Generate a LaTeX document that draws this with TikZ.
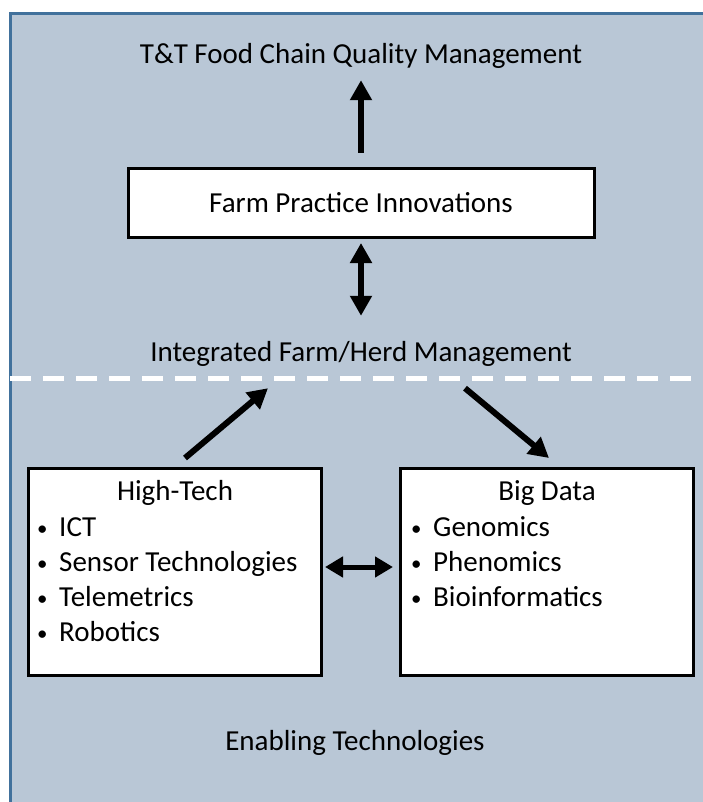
\documentclass[tikz,border=0pt]{standalone}
\usepackage{fontspec}
\setmainfont{Carlito}
\usepackage{xcolor}
\usetikzlibrary{arrows.meta,positioning}

\definecolor{panelfill}{RGB}{185,199,214}
\definecolor{panelline}{RGB}{65,113,156}

\newcommand{\bul}{\makebox[0pt][c]{\raisebox{1pt}{\scalebox{0.72}{\textbullet}}}\hspace{17pt}}

\begin{document}
\begin{tikzpicture}[x=1pt,y=-1pt,>={Triangle[length=20pt,width=21pt]},
                    lbl/.style={font=\fontsize{29}{35}\selectfont,inner sep=0pt,
                                text height=21pt,text depth=7pt},
                    box/.style={draw,line width=3pt,fill=white},
                    arr/.style={->,line width=6pt},
                    dblarr/.style={<->,line width=6pt},
                    sepline/.style={white,line width=5pt,dash pattern=on 21pt off 12pt}]
  \useasboundingbox (0,0) rectangle (703,802);
  \clip (0,0) rectangle (703,802);
  \fill[white] (0,0) rectangle (703,802);
  \fill[panelfill] (10.5,13.5) rectangle (703,802);
  \draw[panelline,line width=3pt] (10.5,802) -- (10.5,13.5) -- (703,13.5);

  \node[lbl,anchor=base]  (title)    at (361,64)  {T\&T Food Chain Quality Management};
  \node[box,lbl,minimum width=466pt,minimum height=69pt,
        text height=24pt,text depth=4pt] (fpi) at (361,203) {Farm Practice Innovations};
  \node[lbl,anchor=base]  (ifhm)     at (361,361) {Integrated Farm/Herd Management};
  \coordinate (sepL) at (10,378);
  \coordinate (sepR) at (703,378);

  \node[box,minimum width=293pt,minimum height=207pt] (hightech) at (175,572) {};
  \node[box,minimum width=293pt,minimum height=207pt] (bigdata)  at (547,572) {};

  \node[lbl,anchor=base] (htname) at ([yshift=-33pt]hightech.north) {High-Tech};
  \node[lbl,anchor=base west] (ict) at ([xshift=15pt,yshift=-69pt]hightech.north west) {\bul ICT};
  \node[lbl,below=35pt of ict.base west,anchor=base west]    (sensor) {\bul Sensor Technologies};
  \node[lbl,below=35pt of sensor.base west,anchor=base west] (telem)  {\bul Telemetrics};
  \node[lbl,below=35pt of telem.base west,anchor=base west]  (robot)  {\bul Robotics};

  \node[lbl,anchor=base] (bdname) at ([yshift=-33pt]bigdata.north) {Big Data};
  \node[lbl,anchor=base west] (genom) at ([xshift=17pt,yshift=-69pt]bigdata.north west) {\bul Genomics};
  \node[lbl,below=35pt of genom.base west,anchor=base west]  (phenom) {\bul Phenomics};
  \node[lbl,below=35pt of phenom.base west,anchor=base west] (bioinf) {\bul Bioinformatics};

  \node[lbl,anchor=base] (enabling) at (355,750) {Enabling Technologies};

  \draw[sepline] (sepL) -- (sepR);
  \draw[arr] ([yshift=14pt]fpi.north) -- ([yshift=-9pt]title.south);
  \draw[dblarr] ([yshift=-4pt]fpi.south) -- ([yshift=24pt]ifhm.north);
  \draw[arr] ([xshift=10pt,yshift=9pt]hightech.north) -- ([xshift=-93pt,yshift=-20pt]ifhm.south);
  \draw[arr] ([xshift=104pt,yshift=-20pt]ifhm.south) -- ([xshift=2pt,yshift=9pt]bigdata.north);
  \draw[dblarr,line width=5pt,>={Triangle[length=18pt,width=20pt]}]
    ([xshift=2pt,yshift=5pt]hightech.east) -- ([xshift=-6pt,yshift=5pt]bigdata.west);
\end{tikzpicture}
\end{document}
